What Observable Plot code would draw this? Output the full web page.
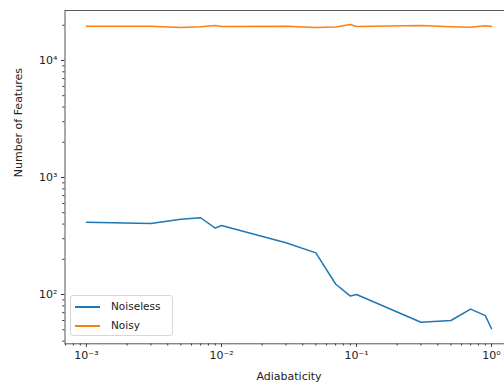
<!DOCTYPE html>
<html><head><meta charset="utf-8">
<script src="https://cdn.jsdelivr.net/npm/d3@7"></script>
<script src="https://cdn.jsdelivr.net/npm/@observablehq/plot@0.6"></script>
<style>
body{margin:0;background:#fff;}
#wrap{position:relative;width:504px;height:387px;overflow:hidden;font-family:"DejaVu Sans",sans-serif;}
#wrap svg{max-width:none !important;}
#legend{position:absolute;left:70px;top:295px;width:103px;height:41px;border:1px solid #d8d8d8;border-radius:3px;background:rgba(255,255,255,0.85);box-sizing:border-box;font-size:10.5px;color:#222;}
.item{position:absolute;left:4px;height:12px;}
.item span.sw{position:absolute;left:0;top:5px;width:25px;height:2px;}
.item span.lb{position:absolute;left:36px;top:-1px;white-space:nowrap;}
</style></head><body><div id="wrap"></div>
<script>
const adiabaticity = [0.001,0.003,0.005,0.007,0.009,0.01,0.03,0.05,0.07,0.09,0.1,0.3,0.5,0.7,0.9,1.0];
const noiseless = [415,404,440,453,369,389,277,227,123,97,100,58,60,75,66,51];
const noisy = [19600,19600,19100,19400,19900,19500,19600,19100,19300,20300,19500,19900,19400,19200,19800,19500];
const seriesNames = ["Noiseless","Noisy"];
const seriesColors = ["#1f77b4","#ff7f0e"];
const xMajor = [0.001,0.01,0.1,1];
const xLabels = ["10⁻³","10⁻²","10⁻¹","10⁰"];
const yMajor = [100,1000,10000];
const yLabels = ["10²","10³","10⁴"];
const xTitle = "Adiabaticity";
const yTitle = "Number of Features";

const rows = [];
seriesNames.forEach((s, k) => {
  const vals = k === 0 ? noiseless : noisy;
  adiabaticity.forEach((a, i) => rows.push({series: s, x: a, y: vals[i]}));
});

const xDomain = [Math.pow(10,-3.159), Math.pow(10,0.159)];
const yDomain = [Math.pow(10,1.579), Math.pow(10,4.427)];
function minors(lo, hi) {
  const out = [];
  for (let e = Math.floor(Math.log10(lo)); e <= Math.ceil(Math.log10(hi)); e++)
    for (let m = 2; m <= 9; m++) { const v = m * Math.pow(10, e); if (v >= lo && v <= hi) out.push(v); }
  return out;
}
const xMinor = minors(xDomain[0], xDomain[1]);
const yMinor = minors(yDomain[0], yDomain[1]);
const ax = "#333";

const chart = Plot.plot({
  width: 520, height: 387,
  marginTop: 10, marginBottom: 43.7, marginLeft: 64.5, marginRight: 7.5,
  style: {fontFamily: "DejaVu Sans, sans-serif", fontSize: "10.5px", color: "#222", background: "#fff", maxWidth: "none"},
  x: {type: "log", domain: xDomain},
  y: {type: "log", domain: yDomain},
  color: {domain: seriesNames, range: seriesColors},
  marks: [
    Plot.axisX(xMinor, {tickSize: 2.2, tickFormat: () => "", stroke: ax, label: null}),
    Plot.axisY(yMinor, {tickSize: 2.2, tickFormat: () => "", stroke: ax, label: null}),
    Plot.axisX(xMajor, {tickSize: 3.5, tickPadding: 4, tickFormat: d => xLabels[xMajor.indexOf(d)], stroke: ax, fill: "#222", fontSize: 11, label: null}),
    Plot.axisY(yMajor, {tickSize: 3.5, tickPadding: 4, tickFormat: d => yLabels[yMajor.indexOf(d)], stroke: ax, fill: "#222", fontSize: 11, label: null}),
    Plot.line(rows, {x: "x", y: "y", z: "series", stroke: "series", strokeWidth: 1.5}),
    Plot.frame({stroke: "#555", strokeWidth: 1}),
    Plot.text([xTitle], {frameAnchor: "bottom", dy: 36, text: d => d, fontSize: 11, fill: "#222"}),
    Plot.text([yTitle], {frameAnchor: "left", dx: -47, rotate: -90, text: d => d, fontSize: 11, fill: "#222"})
  ]
});
chart.style.maxWidth = "none";
const wrap = document.getElementById("wrap");
wrap.appendChild(chart);
const leg = document.createElement("div");
leg.id = "legend";
seriesNames.forEach((s, i) => {
  const it = document.createElement("div");
  it.className = "item";
  it.style.top = (5 + i * 19) + "px";
  it.innerHTML = `<span class="sw" style="background:${seriesColors[i]}"></span><span class="lb">${s}</span>`;
  leg.appendChild(it);
});
wrap.appendChild(leg);
</script></body></html>
